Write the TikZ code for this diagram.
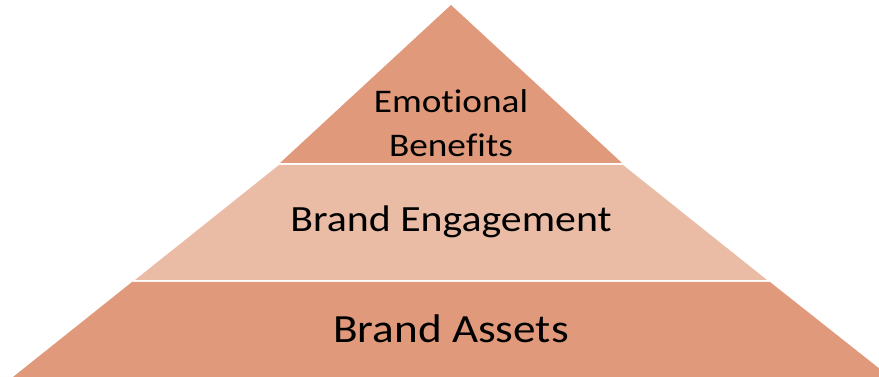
\documentclass[tikz,border=0pt]{standalone}
\usepackage{fontspec}
\setmainfont[Ligatures={NoCommon,NoRare},RawFeature={-liga;-dlig;-calt}]{Carlito}
\definecolor{darkband}{RGB}{224,153,122}
\definecolor{lightband}{RGB}{234,187,165}
\begin{document}
\begin{tikzpicture}[x=1pt,y=1pt,
  lbl/.style={anchor=base,inner sep=0pt,text=black}]
\useasboundingbox (0,0) rectangle (879,377);
\clip (0,0) rectangle (879,377);
% bands
\fill[darkband] (451,372) -- (622,214) -- (280,214) -- cycle;
\fill[lightband] (279,212) -- (623,212) -- (767,97) -- (135,97) -- cycle;
\fill[darkband] (132,95) -- (770,95) -- (890,0) -- (13,0) -- cycle;
% labels
\node[lbl] (emo) at (451,264) {\fontsize{33}{33}\selectfont\scalebox{1.13}[1]{Emot\kern0pt ional}};
\node[lbl] (ben) at (451,220) {\fontsize{33}{33}\selectfont\scalebox{1.13}[1]{Bene\kern0pt f\kern0pt its}};
\node[lbl] (eng) at (451,145) {\fontsize{37}{37}\selectfont\scalebox{1.13}[1]{Brand Engagement}};
\node[lbl] (ast) at (451,34) {\fontsize{40}{40}\selectfont\scalebox{1.13}[1]{Brand Assets}};
\end{tikzpicture}
\end{document}
